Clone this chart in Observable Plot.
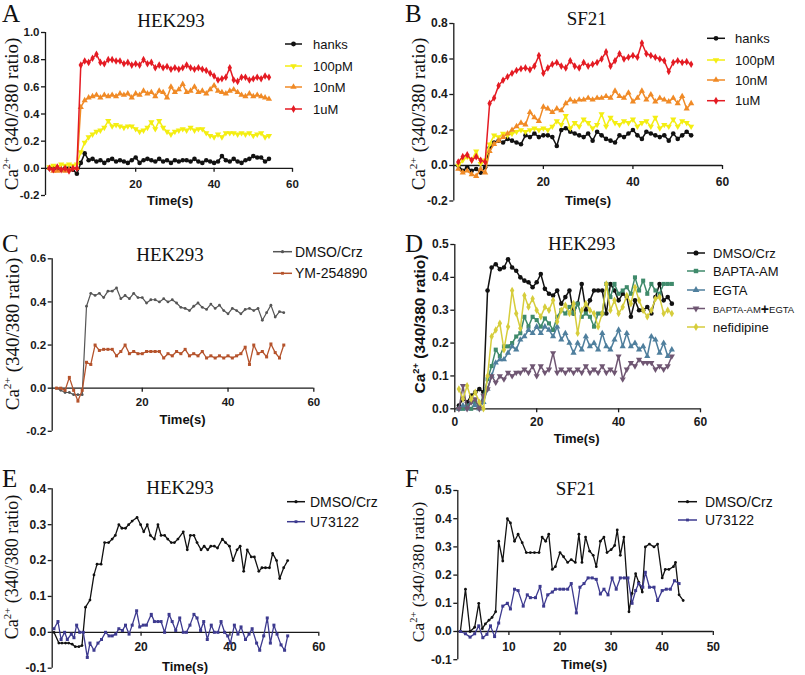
<!DOCTYPE html>
<html><head><meta charset="utf-8">
<script src="https://cdn.jsdelivr.net/npm/d3@7"></script>
<script src="https://cdn.jsdelivr.net/npm/@observablehq/plot@0.6"></script>
<style>
html,body{margin:0;padding:0;background:#fff;}
#root{position:relative;width:805px;height:675px;overflow:hidden;background:#fff;}
</style></head>
<body><div id="root"></div>
<script>
// ---------------- DATA ----------------
const aTime = [-2,-1,0,1,2,3,4,5,6,7,8,9,10,11,12,13,14,15,16,17,18,19,20,21,22,23,24,25,26,27,28,29,30,31,32,33,34,35,36,37,38,39,40,41,42,43,44,45,46,47,48,49,50,51,52,53,54];
const aHanks = [0,0,0,-0.01,0,0,-0.01,-0.04, 0.04,0.11,0.06,0.07,0.05, 0.06,0.04,0.06,0.07,0.05, 0.06,0.05,0.04,0.06,0.08, 0.04,0.06,0.07,0.06,0.05, 0.07,0.05,0.06,0.04,0.06, 0.05,0.06,0.06,0.05,0.07, 0.05,0.04,0.06,0.05,0.04, 0.05,0.09,0.06,0.05,0.07, 0.05,0.04,0.06,0.07,0.09, 0.08,0.08,0.05,0.07];
const a100pM = [0.01,0.02,0.01,0.03,0.02,0.03,0.02,0.03, 0.12,0.19,0.23,0.25,0.27, 0.28,0.30,0.35,0.31,0.32, 0.31,0.30,0.31,0.31,0.29, 0.27,0.28,0.30,0.34,0.29, 0.35,0.30,0.27,0.25,0.27, 0.28,0.29,0.28,0.30,0.28, 0.29,0.29,0.26,0.24,0.23, 0.25,0.23,0.26,0.26,0.26, 0.25,0.26,0.25,0.26,0.24, 0.25,0.26,0.23,0.24];
const a10nM = [0,-0.02,-0.02,-0.01,-0.02,-0.01,0,0, 0.45,0.50,0.52,0.53,0.54, 0.52,0.54,0.53,0.54,0.53, 0.55,0.54,0.55,0.52,0.55, 0.54,0.57,0.55,0.56,0.53, 0.57,0.56,0.52,0.60,0.56, 0.58,0.62,0.56,0.57,0.60, 0.56,0.57,0.55,0.58,0.61, 0.57,0.56,0.55,0.57,0.58, 0.56,0.54,0.53,0.55,0.53, 0.54,0.53,0.52,0.51];
const a1uM = [0,-0.01,0.01,-0.01,0,-0.02,0,0, 0.76,0.79,0.78,0.81,0.84, 0.78,0.77,0.80,0.80,0.79, 0.79,0.77,0.78,0.76,0.77, 0.76,0.80,0.77,0.78,0.74, 0.76,0.74,0.75,0.73,0.74, 0.73,0.74,0.76,0.74,0.73, 0.74,0.73,0.72,0.70,0.68, 0.65,0.66,0.67,0.74,0.65, 0.64,0.67,0.67,0.65,0.66, 0.67,0.66,0.68,0.67];

const bTime = [1,2,3,4,5,6,7,8,9,10,11,12,13,14,15,16,17,18,19,20,21,22,23,24,25,26,27,28,29,30,31,32,33,34,35,36,37,38,39,40,41,42,43,44,45,46,47,48,49,50,51,52,53];
const bHanks = [0,-0.03,-0.01,-0.03,-0.02, -0.04,-0.01,0.10,0.13,0.14, 0.13,0.15,0.14,0.13,0.12, 0.17,0.16,0.18,0.16,0.17, 0.17,0.16,0.11,0.20,0.21, 0.19,0.18,0.17,0.16,0.18, 0.14,0.19,0.17,0.15,0.14, 0.13,0.17,0.16,0.18,0.20, 0.17,0.15,0.19,0.18,0.17, 0.16,0.17,0.14,0.18,0.15, 0.17,0.19,0.17];
const b100pM = [0,0.03,0.05,0.03,0.08, 0.01,0.03,0.12,0.17,0.16, 0.18,0.17,0.18,0.19,0.20, 0.19,0.20,0.21,0.20,0.21, 0.20,0.22,0.25,0.23,0.28, 0.21,0.24,0.22,0.26,0.24, 0.21,0.23,0.29,0.22,0.27, 0.24,0.23,0.25,0.24,0.26, 0.22,0.24,0.25,0.22,0.27, 0.21,0.23,0.22,0.26,0.22, 0.25,0.24,0.22];
const b10nM = [-0.02,-0.04,-0.03,-0.05,-0.06, -0.02,-0.04,0.08,0.12,0.14, 0.16,0.18,0.20,0.22,0.24, 0.23,0.30,0.27,0.25,0.33, 0.32,0.30,0.32,0.31,0.35, 0.37,0.36,0.37,0.37,0.38, 0.37,0.38,0.38,0.39,0.38, 0.42,0.39,0.38,0.41,0.36, 0.38,0.42,0.37,0.40,0.36, 0.38,0.37,0.36,0.38,0.35, 0.39,0.32,0.35];
const b1uM = [0.02,0.05,0.06,0.03,0.05, 0.03,0.02,0.35,0.38,0.45, 0.48,0.50,0.52,0.535,0.545, 0.55,0.54,0.56,0.62,0.52, 0.55,0.57,0.58,0.56,0.55, 0.59,0.56,0.55,0.58,0.56, 0.57,0.58,0.60,0.64,0.56, 0.59,0.63,0.60,0.61,0.62, 0.61,0.69,0.63,0.62,0.61, 0.60,0.59,0.53,0.58,0.59, 0.58,0.585,0.57];

const cTime = [0,1,2,3,4,5,6,7,8,9,10,11,12,13,14,15,16,17,18,19,20,21,22,23,24,25,26,27,28,29,30,31,32,33,34,35,36,37,38,39,40,41,42,43,44,45,46,47,48,49,50,51,52,53];
const cDMSO = [0,-0.01,-0.02,-0.02,-0.03,-0.03,-0.03,0.38, 0.44,0.43,0.44,0.42,0.45, 0.45,0.465,0.415,0.43,0.415, 0.44,0.42,0.42,0.395,0.41, 0.41,0.40,0.415,0.40,0.41, 0.395,0.375,0.37,0.36,0.38, 0.395,0.375,0.365,0.39,0.37, 0.385,0.36,0.345,0.37,0.36, 0.345,0.365,0.37,0.36,0.37, 0.315,0.35,0.385,0.33,0.355, 0.35];
const cYM = [0,0,-0.01,0.05,-0.01,-0.06,-0.01,0.12, 0.11,0.20,0.175,0.18,0.18, 0.18,0.15,0.17,0.20,0.16, 0.17,0.16,0.16,0.17,0.17, 0.17,0.17,0.14,0.16,0.15, 0.17,0.16,0.18,0.15,0.16, 0.15,0.17,0.14,0.15,0.14, 0.15,0.14,0.15,0.14,0.15, 0.16,0.19,0.11,0.20,0.16, 0.17,0.145,0.205,0.165,0.14, 0.20];

const dTime = [1,2,3,4,5,6,7,8,9,10,11,12,13,14,15,16,17,18,19,20,21,22,23,24,25,26,27,28,29,30,31,32,33,34,35,36,37,38,39,40,41,42,43,44,45,46,47,48,49,50,51,52,53];
const dDMSO = [0.01,0.03,0.02,0.04,0.05, 0.06,0.05,0.36,0.43,0.44, 0.425,0.43,0.455,0.43,0.42, 0.40,0.39,0.385,0.37,0.385, 0.41,0.365,0.35,0.345,0.36, 0.32,0.34,0.36,0.29,0.32, 0.38,0.30,0.33,0.36,0.36, 0.36,0.29,0.38,0.36,0.33, 0.35,0.34,0.28,0.33,0.30, 0.30,0.31,0.29,0.34,0.38, 0.33,0.34,0.32];
const dBAPTA = [0,0,0.01,0,0.02, 0.01,0.04,0.09,0.13,0.18, 0.16,0.19,0.19,0.20,0.22, 0.23,0.28,0.25,0.28,0.27, 0.25,0.275,0.26,0.24,0.28, 0.30,0.29,0.31,0.29,0.32, 0.28,0.29,0.28,0.25,0.29, 0.29,0.38,0.34,0.38,0.35, 0.36,0.37,0.35,0.40,0.36, 0.39,0.35,0.38,0.36,0.35, 0.38,0.38,0.38];
const dEGTA = [0,0.01,0,0.02,0.01, 0,0.02,0.06,0.10,0.14, 0.15,0.15,0.17,0.19,0.18, 0.21,0.22,0.24,0.23,0.25, 0.23,0.25,0.24,0.22,0.25, 0.21,0.23,0.20,0.17,0.20, 0.18,0.22,0.19,0.20,0.18, 0.23,0.19,0.18,0.21,0.24, 0.19,0.23,0.19,0.20,0.18, 0.19,0.16,0.22,0.21,0.17, 0.20,0.16,0.18];
const dBoth = [0,0.07,0,0.02,0.03, 0,0.04,0.06,0.10,0.08, 0.10,0.09,0.11,0.10,0.11, 0.11,0.12,0.11,0.13,0.10, 0.13,0.11,0.12,0.17,0.11, 0.12,0.11,0.12,0.11,0.12, 0.11,0.13,0.11,0.12,0.11, 0.13,0.11,0.12,0.11,0.16, 0.09,0.12,0.14,0.13,0.15, 0.14,0.14,0.14,0.12,0.13, 0.12,0.13,0.16];
const dNef = [0.06,0.03,0.07,0.03,0.05, 0.02,0.0,0.10,0.22,0.24, 0.26,0.18,0.25,0.36,0.29, 0.245,0.345,0.31,0.335,0.30, 0.28,0.31,0.30,0.33,0.265, 0.30,0.315,0.29,0.32,0.23, 0.30,0.32,0.30,0.29,0.25, 0.29,0.38,0.30,0.33,0.29, 0.31,0.345,0.32,0.37,0.33, 0.30,0.28,0.30,0.335,0.34, 0.29,0.30,0.29];

const eDMSOTime = [0.4,1.5,2.2,3,3.7,4.5,5.2,6,6.7,7.5,8.5,9.4,10.1,11,11.8,12.7,13.5,14.2,15,15.7,16.5,17.2,18,19.1,19.9,20.6,21.4,22.1,23,23.8,24.5,25.3,26,26.8,27.5,28.3,29.5,30.4,31.1,31.9,32.6,33.5,34.2,35,35.7,36.5,37.2,38.3,39,39.9,40.7,41.6,42.3,43.1,43.9,44.8,45.5,46.5,47.2,48,48.9,49.6,50.5,51.2,52.1,53];
const eDMSO = [0,-0.03,-0.03,-0.03,-0.03,-0.033,-0.04,-0.04,-0.037,0.07,0.09,0.16,0.19,0.19,0.25,0.25,0.26,0.27,0.30,0.29,0.29,0.30,0.31,0.32,0.30,0.28,0.30,0.27,0.26,0.30,0.27,0.27,0.26,0.25,0.25,0.26,0.28,0.23,0.27,0.27,0.25,0.23,0.24,0.23,0.24,0.24,0.235,0.26,0.25,0.24,0.20,0.23,0.24,0.17,0.23,0.21,0.21,0.17,0.18,0.18,0.18,0.22,0.20,0.15,0.18,0.20];
const eU73Time = [0.4,1.3,2,2.8,3.4,4.3,4.9,5.5,6.2,7,7.9,8.5,9.4,10.3,11.1,12,12.8,13.5,14.3,15,15.8,16.5,17.3,18,19,19.7,20.5,21.2,22.3,23,23.8,24.5,25.3,26.3,27,27.8,28.7,29.5,30.2,31,31.9,32.6,33.4,34.1,34.9,35.8,36.5,37.3,38,38.8,39.5,40.1,41,41.8,42.5,43.5,44.3,45,46,46.7,47.6,48.4,49.1,49.9,50.6,51.5,52.3,53];
const eU73 = [0.01,0.03,-0.02,0,-0.02,-0.005,-0.015,0.02,0,0,-0.07,-0.03,-0.05,-0.03,-0.02,0,-0.01,-0.01,-0.005,0.01,0.005,0.02,-0.005,0.02,0.06,0.015,0.02,0.02,0.05,0.03,0.03,0.03,0,0.05,0.03,0.005,0.04,0,0,0.02,0.05,0.04,0.005,0.03,-0.02,0.02,0,0,0.03,0,-0.01,-0.03,0.02,-0.005,0.015,-0.02,-0.005,0.01,-0.03,-0.05,-0.01,0.04,-0.03,0.02,-0.005,-0.035,-0.05,-0.01];

const fDMSOTime = [0.5,1.5,2.4,3.3,4.1,4.8,5.4,6.1,6.7,7.4,8,8.8,9.7,10.3,11.1,11.8,12.6,13.4,14.2,15,15.9,16.5,17.2,17.8,18.5,19.1,20,20.7,21.5,22.2,23,23.7,24.3,25,25.8,26.5,27.1,27.9,28.6,29.2,30,30.7,31.2,31.8,32.5,33.5,34.1,34.8,35.4,36.1,36.7,37.5,38.4,39.1,40,40.6,41.3,42.2,42.6,43.3,44.1];
const fDMSO = [0,0.15,0,0.015,0.1,0.01,0.027,0.04,0.05,0.07,0.32,0.25,0.40,0.385,0.32,0.345,0.315,0.28,0.28,0.28,0.28,0.335,0.32,0.345,0.22,0.23,0.28,0.265,0.245,0.255,0.245,0.345,0.245,0.335,0.285,0.27,0.23,0.32,0.335,0.28,0.29,0.305,0.36,0.27,0.335,0.07,0.135,0.205,0.175,0.14,0.30,0.31,0.30,0.31,0.19,0.22,0.22,0.23,0.245,0.13,0.11];
const fU73Time = [0.5,1.5,2.4,3.3,4.1,4.9,5.7,6.4,7.2,8,8.8,9.7,10.3,11.1,11.8,12.8,13.6,14.2,15.2,16.1,16.8,17.6,18.5,19.1,20,20.7,21.5,22.2,23.2,23.9,24.7,25.5,26.3,27.1,27.9,28.6,29.4,30.2,31,31.8,32.6,33.3,34.1,34.8,35.4,36.2,36.7,37.5,38.4,39.1,40,40.8,41.6,42.4,43.3];
const fU73 = [0,-0.008,-0.02,-0.008,0.02,-0.022,-0.01,0.02,-0.018,0.03,0.09,0.1,0.08,0.15,0.145,0.09,0.13,0.12,0.12,0.16,0.09,0.13,0.14,0.15,0.15,0.15,0.15,0.17,0.066,0.157,0.17,0.19,0.19,0.185,0.133,0.15,0.13,0.19,0.15,0.19,0.19,0.19,0.1,0.145,0.17,0.157,0.21,0.157,0.157,0.11,0.145,0.15,0.15,0.18,0.17];

// tick values and labels
const ticksA = {x: [20, 40, 60], y: [-0.2, 0, 0.2, 0.4, 0.6, 0.8, 1.0]};
const ticksB = {x: [20, 40, 60], y: [-0.2, 0, 0.2, 0.4, 0.6, 0.8]};
const ticksC = {x: [20, 40, 60], y: [-0.2, 0, 0.2, 0.4, 0.6]};
const ticksD = {x: [0, 20, 40, 60], y: [0, 0.1, 0.2, 0.3, 0.4, 0.5]};
const ticksE = {x: [20, 40, 60], y: [-0.1, 0, 0.1, 0.2, 0.3, 0.4]};
const ticksF = {x: [10, 20, 30, 40, 50], y: [-0.1, 0, 0.1, 0.2, 0.3, 0.4, 0.5]};

const namesAB = ["hanks", "100pM", "10nM", "1uM"];
const namesC = ["DMSO/Crz", "YM-254890"];
const namesD = ["DMSO/Crz", "BAPTA-AM", "EGTA", "BAPTA-AM+EGTA", "nefidipine"];
const namesEF = ["DMSO/Crz", "U73122"];

// ---------------- STYLE ----------------
const SANS = "'Liberation Sans', Arial, Helvetica, sans-serif";
const SERIF = "'Liberation Serif', 'Times New Roman', Times, serif";
const AX = "#1a1a1a";
const triangleDown = {draw(context, size) {
  const y = -Math.sqrt(size / (Math.sqrt(3) * 3));
  context.moveTo(0, -y * 2);
  context.lineTo(-Math.sqrt(3) * y, y);
  context.lineTo(Math.sqrt(3) * y, y);
  context.closePath();
}};
const colAB = ["#111111", "#f4ee12", "#f08a26", "#e41b23"];
const symAB = [d3.symbolCircle, triangleDown, d3.symbolTriangle, d3.symbolDiamond];
const colC = ["#555555", "#b5532c"];
const colD = ["#111111", "#3f8a6b", "#4f7f9d", "#6f5672", "#d6cd3c"];
const symD = [d3.symbolCircle, d3.symbolSquare, d3.symbolTriangle, triangleDown, d3.symbolDiamond];
const colEF = ["#111111", "#3d3a8f"];

const root = document.getElementById("root");

function panel(p) {
  const [mt, mr, mb, ml] = p.margin;
  const innerH = p.height - mt - mb;
  const tickLen = 4 * (p.yDomain[1] - p.yDomain[0]) / innerH;
  const marks = [
    Plot.ruleX([p.xDomain[0]], {stroke: AX, strokeWidth: 1.3}),
    Plot.ruleY([0], {stroke: AX, strokeWidth: 1.3}),
    Plot.ruleX(p.ticks.x, {x: d => d, y1: 0, y2: -tickLen, stroke: AX, strokeWidth: 1.3}),
    Plot.text(p.ticks.x, {x: d => d, y: 0, dy: p.xLabelDy, text: d => String(d), fontSize: p.tickFont, fontWeight: "bold", lineAnchor: "middle", fill: AX}),
    Plot.axisY(p.ticks.y, {anchor: "left", tickSize: 4, tickPadding: 2, tickFormat: d => d.toFixed(1), fontSize: p.tickFont, fontWeight: "bold", strokeWidth: 1.3, label: null})
  ];
  p.series.forEach(s => {
    const n = Math.min(s.t.length, s.v.length);
    const data = d3.range(n).map(i => ({t: s.t[i], v: s.v[i]}));
    marks.push(Plot.line(data, {x: "t", y: "v", stroke: s.color, strokeWidth: s.sw}));
    marks.push(Plot.dot(data, {x: "t", y: "v", fill: s.color, stroke: "none", symbol: s.symbol, r: s.r}));
  });
  const svg = Plot.plot({
    width: p.width, height: p.height,
    marginTop: mt, marginRight: mr, marginBottom: mb, marginLeft: ml,
    x: {domain: p.xDomain, axis: null},
    y: {domain: p.yDomain, axis: null, label: null},
    style: {background: "transparent", overflow: "visible", fontFamily: SANS, fontWeight: "bold", color: AX},
    marks
  });
  svg.style.position = "absolute";
  svg.style.left = p.left + "px";
  svg.style.top = p.top + "px";
  root.appendChild(svg);
}

panel({left: 0, top: 0, width: 400, height: 215, margin: [32, 108, 20, 45], xDomain: [-3, 60], yDomain: [-0.2, 1.0], ticks: ticksA, xLabelDy: 15.5, tickFont: 11.5,
  series: [aHanks, a100pM, a10nM, a1uM].map((v, i) => ({t: aTime, v, color: colAB[i], symbol: symAB[i], r: 2.3, sw: 1.5}))});
panel({left: 400, top: 0, width: 405, height: 215, margin: [23, 83, 14.5, 53.3], xDomain: [0, 60], yDomain: [-0.2, 0.8], ticks: ticksB, xLabelDy: 16.5, tickFont: 12,
  series: [bHanks, b100pM, b10nM, b1uM].map((v, i) => ({t: bTime, v, color: colAB[i], symbol: symAB[i], r: 2.3, sw: 1.5}))});
panel({left: 0, top: 220, width: 400, height: 220, margin: [38.3, 86.7, 9.2, 51.7], xDomain: [-1, 60], yDomain: [-0.2, 0.6], ticks: ticksC, xLabelDy: 14, tickFont: 11.5,
  series: [
    {t: cTime, v: cDMSO, color: colC[0], symbol: d3.symbolCircle, r: 1.4, sw: 1.2},
    {t: cTime, v: cYM, color: colC[1], symbol: d3.symbolSquare, r: 1.7, sw: 1.3}]});
panel({left: 400, top: 220, width: 405, height: 220, margin: [24, 105, 31.7, 54.3], xDomain: [0, 60], yDomain: [0, 0.5], ticks: ticksD, xLabelDy: 13.4, tickFont: 12,
  series: [dDMSO, dBAPTA, dEGTA, dBoth, dNef].map((v, i) => ({t: dTime, v, color: colD[i], symbol: symD[i], r: 2.3, sw: 1.5}))});
panel({left: 0, top: 440, width: 400, height: 235, margin: [48.3, 81.7, 7.3, 51.7], xDomain: [0, 60], yDomain: [-0.1, 0.4], ticks: ticksE, xLabelDy: 15, tickFont: 12,
  series: [
    {t: eDMSOTime, v: eDMSO, color: colEF[0], symbol: d3.symbolCircle, r: 1.4, sw: 1.3},
    {t: eU73Time, v: eU73, color: colEF[1], symbol: d3.symbolSquare, r: 1.7, sw: 1.3}]});
panel({left: 400, top: 440, width: 405, height: 235, margin: [50, 92.2, 15.8, 57.3], xDomain: [0, 50], yDomain: [-0.1, 0.5], ticks: ticksF, xLabelDy: 15.7, tickFont: 12,
  series: [
    {t: fDMSOTime, v: fDMSO, color: colEF[0], symbol: d3.symbolCircle, r: 1.4, sw: 1.3},
    {t: fU73Time, v: fU73, color: colEF[1], symbol: d3.symbolSquare, r: 1.7, sw: 1.3}]});

// ---------------- ANNOTATIONS ----------------
const ov = d3.select(root).append("svg").attr("width", 805).attr("height", 675)
  .style("position", "absolute").style("left", "0px").style("top", "0px").style("overflow", "visible");

function txt(x, y, str, o = {}) {
  return ov.append("text").attr("x", x).attr("y", y).text(str)
    .attr("font-family", o.family || SANS).attr("font-size", o.size || 13)
    .attr("font-weight", o.weight || "normal").attr("text-anchor", o.anchor || "start")
    .attr("dominant-baseline", o.baseline || "auto").attr("fill", "#111");
}
function yTitle(cx, cy, size, family, weight) {
  const g = ov.append("g").attr("transform", `translate(${cx},${cy}) rotate(-90)`);
  const t = g.append("text").attr("text-anchor", "middle").attr("y", size * 0.35)
    .attr("font-family", family).attr("font-size", size).attr("font-weight", weight).attr("fill", "#111");
  t.append("tspan").text("Ca");
  t.append("tspan").attr("font-size", size * 0.6).attr("dy", -size * 0.42).text("2+");
  t.append("tspan").attr("dy", size * 0.42).text(" (340/380 ratio)");
}
function legend(rows, x1, x2, tx, size, names, cols, syms, r) {
  rows.forEach((y, i) => {
    ov.append("line").attr("x1", x1).attr("x2", x2).attr("y1", y).attr("y2", y).attr("stroke", cols[i]).attr("stroke-width", 1.5);
    ov.append("path").attr("d", d3.symbol(syms[i], Math.PI * r * r)()).attr("transform", `translate(${(x1 + x2) / 2},${y})`).attr("fill", cols[i]);
    if (names[i] === "BAPTA-AM+EGTA") {
      const t = txt(tx, y, "", {size: 9.5, baseline: "central"});
      t.append("tspan").text("BAPTA-AM");
      t.append("tspan").attr("font-size", 14).attr("font-weight", "bold").text("+");
      t.append("tspan").text("EGTA");
    } else {
      txt(tx, y, names[i], {size, baseline: "central"});
    }
  });
}

// panel letters
[["A", 2, 22.3], ["B", 405, 22.3], ["C", 2, 252], ["D", 405, 252], ["E", 2, 487], ["F", 405, 487]]
  .forEach(([s, x, y]) => txt(x, y, s, {family: SERIF, size: 25}));
// titles
[["HEK293", 171, 26.7], ["SF21", 586.7, 25], ["HEK293", 170, 260.7], ["HEK293", 581.7, 250], ["HEK293", 180, 494], ["SF21", 575.8, 495]]
  .forEach(([s, x, y]) => txt(x, y, s, {family: SERIF, size: 19, anchor: "middle"}));
// x titles
[[170, 200], [588, 200], [182.5, 419.5], [576.7, 438], [185, 666.5], [584, 664]]
  .forEach(([x, y]) => txt(x, y, "Time(s)", {size: 13, weight: "bold", anchor: "middle", baseline: "central"}));
// y titles
yTitle(11, 114, 19, SERIF, "normal");
yTitle(418, 114, 19, SERIF, "normal");
yTitle(12, 334, 19, SERIF, "normal");
yTitle(420, 324, 15.5, SANS, "bold");
yTitle(12, 567, 18, SERIF, "normal");
yTitle(418, 572, 17.5, SERIF, "normal");
// legends
legend([44, 66, 87, 109], 285, 302, 313, 13, namesAB, colAB, symAB, 2.4);
legend([38.3, 60, 80, 100.7], 707, 725, 735, 13, namesAB, colAB, symAB, 2.4);
legend([251.7, 273.3], 273, 292, 295, 14, namesC, colC, [d3.symbolCircle, d3.symbolSquare], 1.6);
legend([253, 271, 290, 308.5, 327], 687, 705, 713, 13, namesD, colD, symD, 2.5);
legend([501.7, 521.7], 287, 305, 310, 14, namesEF, colEF, [d3.symbolCircle, d3.symbolSquare], 1.6);
legend([501.7, 520], 678, 697, 705, 14, namesEF, colEF, [d3.symbolCircle, d3.symbolSquare], 1.6);
</script>
</body></html>
